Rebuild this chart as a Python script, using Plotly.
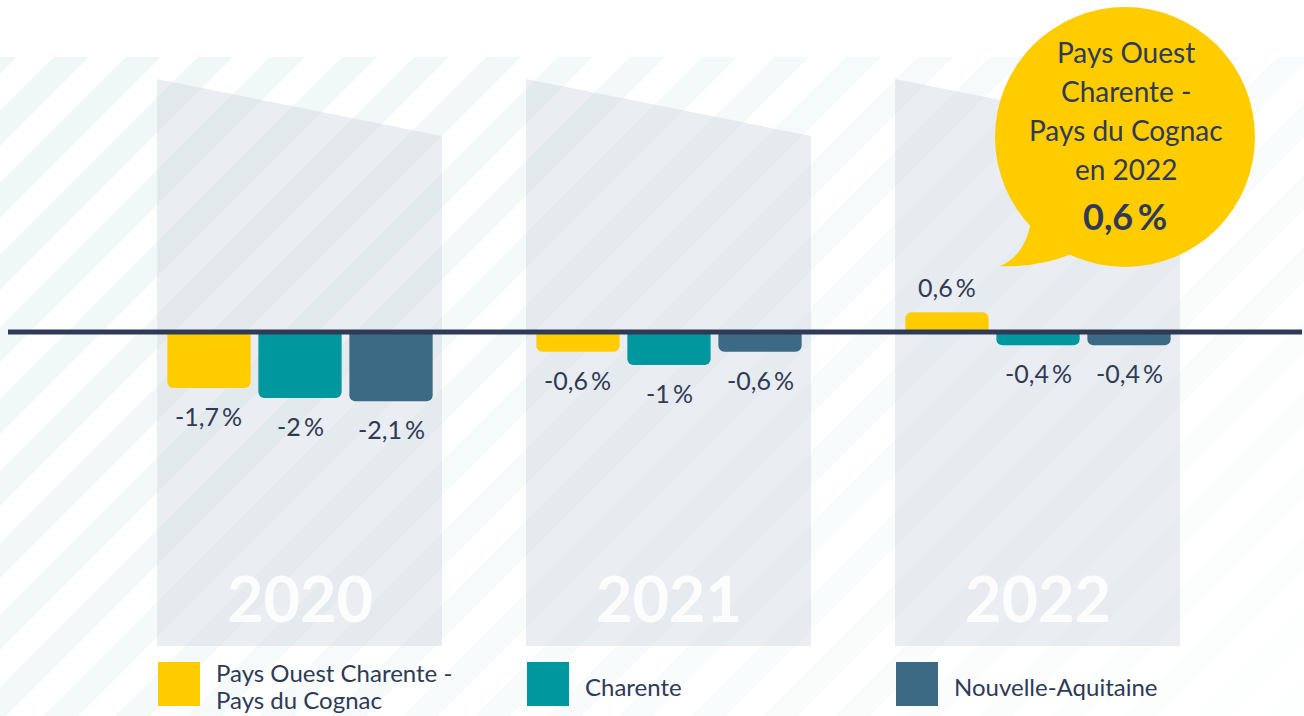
import plotly.graph_objects as go

# ---------------- data ----------------
years = ["2020", "2021", "2022"]
series_names = ["Pays Ouest Charente -<br>Pays du Cognac", "Charente", "Nouvelle-Aquitaine"]
pays_cognac = [-1.7, -0.6, 0.6]
charente = [-2.0, -1.0, -0.4]
nouvelle_aquitaine = [-2.1, -0.6, -0.4]
labels_pays = ["-1,7\u2009%", "-0,6\u2009%", "0,6\u2009%"]
labels_charente = ["-2\u2009%", "-1\u2009%", "-0,4\u2009%"]
labels_na = ["-2,1\u2009%", "-0,6\u2009%", "-0,4\u2009%"]
bubble_lines = ["Pays Ouest", "Charente -", "Pays du Cognac", "en 2022"]
bubble_value = "0,6\u2009%"

colors = ["#FFCC00", "#00979F", "#3C6983"]
text_color = "#2F3A56"
FONT = "Lato"

W, H = 1304, 716
BARGAP = 0.26
GROUPGAP = 0.085


def X(px):
    return px / W


def Y(py):
    return 1 - py / H


fig = go.Figure()
all_values = [pays_cognac, charente, nouvelle_aquitaine]
all_labels = [labels_pays, labels_charente, labels_na]
for name, vals, col in zip(series_names, all_values, colors):
    fig.add_trace(go.Bar(x=years, y=vals, name=name, marker=dict(color=col, cornerradius=6, line=dict(width=0)),
                         showlegend=False, hoverinfo="skip"))

shapes = []
annotations = []

# background stripes
period, sw = 72, 35
c = 111 - period * 2
while c < W + H + period:
    frac = min(max((c - 300) / (W + 400), 0), 1)
    alpha = 0.42 - 0.38 * frac
    pts = [(c - 57, 57), (c + sw - 57, 57), (c + sw - H, H), (c - H, H)]
    path = "M " + " L ".join(f"{X(px):.5f},{Y(py):.5f}" for px, py in pts) + " Z"
    shapes.append(dict(type="path", xref="paper", yref="paper", path=path,
                       fillcolor=f"rgba(220,237,237,{alpha:.3f})", line=dict(width=0), layer="below"))
    c += period

# grey panels behind each year
for i in range(len(years)):
    cx = 300 + 369 * i
    pts = [(cx - 143, 79), (cx + 142, 136), (cx + 142, 646), (cx - 143, 646)]
    path = "M " + " L ".join(f"{X(px):.5f},{Y(py):.5f}" for px, py in pts) + " Z"
    shapes.append(dict(type="path", xref="paper", yref="paper", path=path,
                       fillcolor="rgba(208,214,224,0.45)", line=dict(width=0), layer="below"))
    annotations.append(dict(x=i, y=Y(597), xref="x", yref="paper", text=f"<b>{years[i]}</b>",
                            showarrow=False, font=dict(family=FONT, size=63, color="rgba(255,255,255,0.85)"),
                            xanchor="center", yanchor="middle"))

# zero line
shapes.append(dict(type="line", xref="paper", yref="y", x0=X(8), x1=X(1302), y0=0, y1=0,
                   line=dict(color=text_color, width=5), layer="above"))

# value labels
slot = (1 - BARGAP) / 3
for j, (vals, labs) in enumerate(zip(all_values, all_labels)):
    for i, (v, lab) in enumerate(zip(vals, labs)):
        annotations.append(dict(x=i + (j - 1) * slot, y=v, xref="x", yref="y", text=lab, showarrow=False,
                                yshift=(25 if v > 0 else -28), xanchor="center", yanchor="middle",
                                font=dict(family=FONT, size=25, color=text_color)))

# speech bubble
bcx, bcy, br = 1125, 137, 130
shapes.append(dict(type="circle", xref="paper", yref="paper", x0=X(bcx - br), x1=X(bcx + br),
                   y0=Y(bcy + br), y1=Y(bcy - br), fillcolor="#FFCC00", line=dict(width=0), layer="above"))
tail = [(1032, 215), (1027, 255), (1000, 266), (1045, 268), (1085, 248)]
tp = (f"M {X(tail[0][0]):.5f},{Y(tail[0][1]):.5f} Q {X(tail[1][0]):.5f},{Y(tail[1][1]):.5f} "
      f"{X(tail[2][0]):.5f},{Y(tail[2][1]):.5f} Q {X(tail[3][0]):.5f},{Y(tail[3][1]):.5f} "
      f"{X(tail[4][0]):.5f},{Y(tail[4][1]):.5f} L {X(1100):.5f},{Y(200):.5f} Z")
shapes.append(dict(type="path", xref="paper", yref="paper", path=tp, fillcolor="#FFCC00",
                   line=dict(width=0), layer="above"))
for k, line in enumerate(bubble_lines):
    annotations.append(dict(x=X(1126), y=Y(52 + 39 * k), xref="paper", yref="paper", text=line,
                            showarrow=False, xanchor="center", yanchor="middle",
                            font=dict(family=FONT, size=28, color=text_color)))
annotations.append(dict(x=X(1125), y=Y(216), xref="paper", yref="paper", text=f"<b>{bubble_value}</b>",
                        showarrow=False, xanchor="center", yanchor="middle",
                        font=dict(family=FONT, size=36, color=text_color)))

# custom legend
for j, (name, col) in enumerate(zip(series_names, colors)):
    lx = 158 + 369 * j
    shapes.append(dict(type="rect", xref="paper", yref="paper", x0=X(lx), x1=X(lx + 42), y0=Y(706), y1=Y(662),
                       fillcolor=col, line=dict(width=0), layer="above"))
    parts = name.split("<br>")
    n = len(parts)
    for k, part in enumerate(parts):
        cy = 686 + (k - (n - 1) / 2) * 27
        annotations.append(dict(x=X(lx + 56), y=Y(cy), xref="paper", yref="paper", text=part, showarrow=False,
                                xanchor="left", yanchor="middle", align="left",
                                font=dict(family=FONT, size=24, color=text_color)))

fig.update_layout(
    width=W, height=H, margin=dict(l=0, r=0, t=0, b=0),
    paper_bgcolor="white", plot_bgcolor="rgba(0,0,0,0)",
    barmode="group", bargap=BARGAP, bargroupgap=GROUPGAP,
    xaxis=dict(visible=False, range=[-300 / 369, (W - 300) / 369], type="category", fixedrange=True),
    yaxis=dict(visible=False, range=[-(H - 332) / 33, 332 / 33], fixedrange=True),
    shapes=shapes, annotations=annotations, showlegend=False,
    font=dict(family=FONT, color=text_color),
)

fig.write_html("out.html", config={"displayModeBar": False},
               post_script="document.body.style.margin='0';document.body.style.overflow='hidden';")
